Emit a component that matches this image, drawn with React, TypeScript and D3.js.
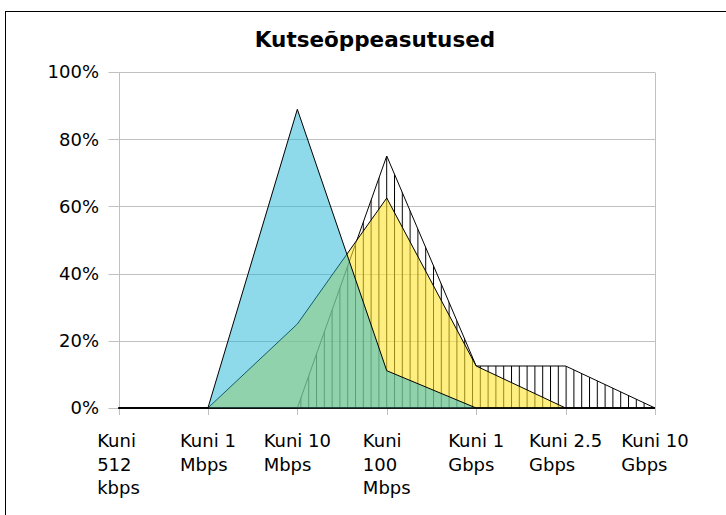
import React, { useEffect, useRef } from "react";
import * as d3 from "d3";

// chart values (share of institutions per connection speed)
const categories: string[][] = [
  ["Kuni", "512", "kbps"],
  ["Kuni 1", "Mbps"],
  ["Kuni 10", "Mbps"],
  ["Kuni", "100", "Mbps"],
  ["Kuni 1", "Gbps"],
  ["Kuni 2.5", "Gbps"],
  ["Kuni 10", "Gbps"],
];
const blueValues = [0, 0, 0.889, 0.111, 0, 0, 0];
const yellowValues = [0, 0, 0.25, 0.625, 0.125, 0, 0];
const hatchValues = [0, 0, 0, 0.75, 0.125, 0.125, 0];
const yTicks = [0, 0.2, 0.4, 0.6, 0.8, 1];
const title = "Kutseõppeasutused";

const W = 726;
const H = 515;
const plot = { left: 118.5, right: 655, top: 72, bottom: 408 };
const font = "'DejaVu Sans', Verdana, sans-serif";
const gridColor = "#c0c0c0";

export default function App() {
  const ref = useRef<SVGSVGElement>(null);

  useEffect(() => {
    const svg = d3.select(ref.current);
    svg.selectAll("*").remove();

    const x = d3
      .scalePoint<number>()
      .domain(categories.map((_, i) => i))
      .range([plot.left, plot.right]);
    const y = d3.scaleLinear().domain([0, 1]).range([plot.bottom, plot.top]);
    const crisp = (v: number) => Math.round(v) + 0.5;

    // outer frame (runs past the right and bottom of the picture)
    svg
      .append("rect")
      .attr("x", 5.5)
      .attr("y", 11.5)
      .attr("width", 760)
      .attr("height", 540)
      .attr("fill", "white")
      .attr("stroke", "black");

    const defs = svg.append("defs");
    const pat = defs
      .append("pattern")
      .attr("id", "vhatch")
      .attr("patternUnits", "userSpaceOnUse")
      .attr("x", 386.2)
      .attr("y", 0)
      .attr("width", 7.8)
      .attr("height", 10);
    pat
      .append("rect")
      .attr("x", 0)
      .attr("y", 0)
      .attr("width", 1)
      .attr("height", 10)
      .attr("fill", "black");

    // title
    svg
      .append("text")
      .attr("x", 375)
      .attr("y", 46.7)
      .attr("text-anchor", "middle")
      .attr("font-family", font)
      .attr("font-weight", "bold")
      .attr("font-size", 21.5)
      .text(title);

    // gridlines and plot frame
    const g = svg.append("g").attr("fill", "none").attr("stroke", gridColor);
    yTicks.forEach((t) => {
      g.append("line")
        .attr("x1", plot.left - 10)
        .attr("x2", plot.right)
        .attr("y1", crisp(y(t)))
        .attr("y2", crisp(y(t)));
    });
    g.append("line")
      .attr("x1", crisp(plot.left))
      .attr("x2", crisp(plot.left))
      .attr("y1", crisp(plot.top))
      .attr("y2", plot.bottom + 7);
    g.append("line")
      .attr("x1", crisp(plot.right))
      .attr("x2", crisp(plot.right))
      .attr("y1", crisp(plot.top))
      .attr("y2", plot.bottom + 7);
    categories.forEach((_, i) => {
      g.append("line")
        .attr("x1", crisp(x(i)!))
        .attr("x2", crisp(x(i)!))
        .attr("y1", plot.bottom)
        .attr("y2", plot.bottom + 7);
    });

    // y labels
    svg
      .append("g")
      .selectAll("text")
      .data(yTicks)
      .join("text")
      .attr("x", 99)
      .attr("y", (d) => y(d))
      .attr("dy", "0.36em")
      .attr("text-anchor", "end")
      .attr("font-family", font)
      .attr("font-size", 18)
      .text((d) => d3.format(".0%")(d));

    // areas
    const area = d3
      .area<number>()
      .x((_, i) => x(i)!)
      .y0(y(0))
      .y1((d) => y(d));

    svg
      .append("path")
      .attr("d", area(hatchValues))
      .attr("fill", "url(#vhatch)")
      .attr("stroke", "black")
      .attr("stroke-width", 1);
    svg
      .append("path")
      .attr("d", area(yellowValues))
      .attr("fill", "rgb(255,228,43)")
      .attr("fill-opacity", 0.6)
      .attr("stroke", "black")
      .attr("stroke-width", 1);
    svg
      .append("path")
      .attr("d", area(blueValues))
      .attr("fill", "rgb(31,181,213)")
      .attr("fill-opacity", 0.5)
      .attr("stroke", "black")
      .attr("stroke-width", 1);

    // x labels: block centred on the category, lines left aligned
    const lab = svg.append("g").attr("font-family", font).attr("font-size", 18);
    categories.forEach((lines, i) => {
      const t = lab.append("text");
      lines.forEach((ln, j) => {
        t.append("tspan").attr("y", 447.3 + j * 23.3).text(ln);
      });
      const widths = t
        .selectAll<SVGTSpanElement, unknown>("tspan")
        .nodes()
        .map((n) => n.getComputedTextLength());
      const w = d3.max(widths) || 0;
      t.selectAll("tspan").attr("x", x(i)! - w / 2);
    });
  }, []);

  return (
    <svg
      ref={ref}
      width={W}
      height={H}
      style={{ position: "absolute", left: 0, top: 0, background: "white" }}
    />
  );
}
